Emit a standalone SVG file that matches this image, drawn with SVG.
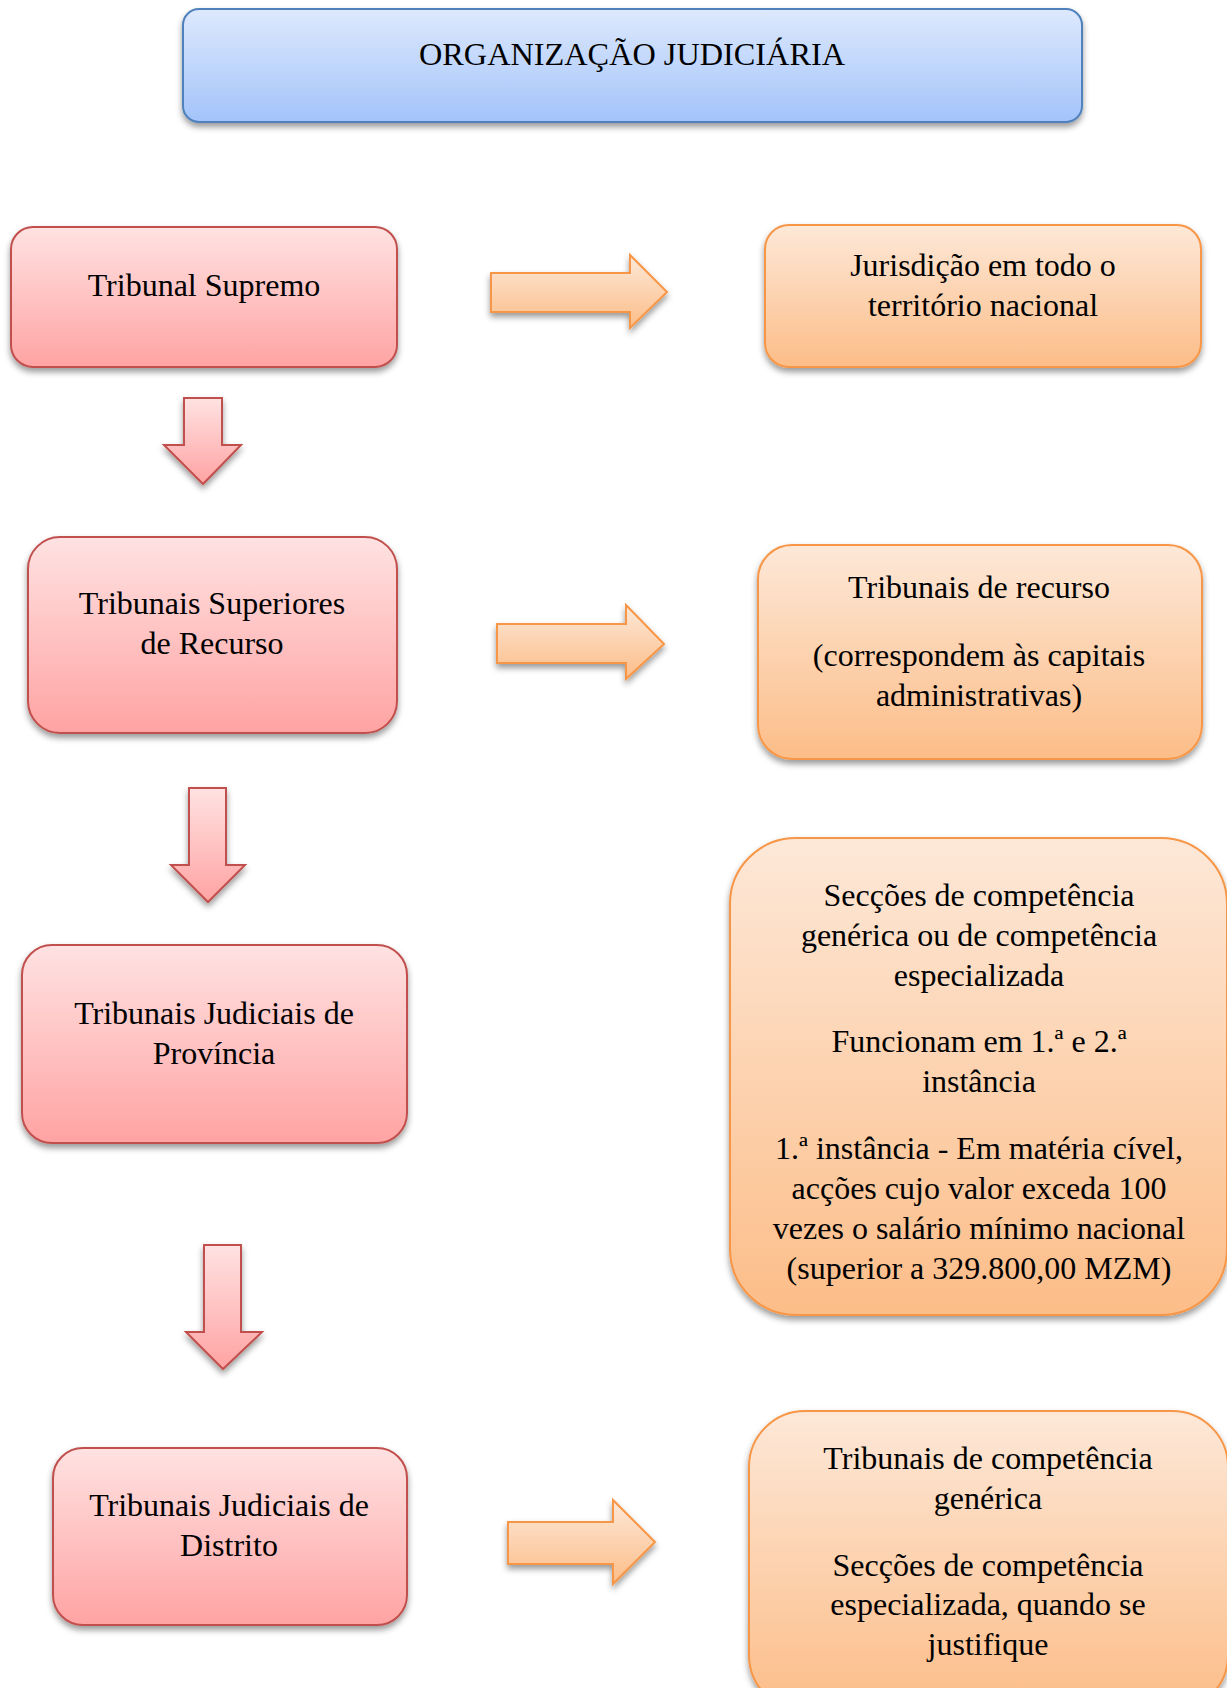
<svg xmlns="http://www.w3.org/2000/svg" width="1227" height="1688" viewBox="0 0 1227 1688">
  <defs>
    <linearGradient id="gBlue" x1="0" y1="0" x2="0" y2="1">
      <stop offset="0" stop-color="#dde9fd"/>
      <stop offset="1" stop-color="#a3c3fa"/>
    </linearGradient>
    <linearGradient id="gPink" x1="0" y1="0" x2="0" y2="1">
      <stop offset="0" stop-color="#ffe2e2"/>
      <stop offset="1" stop-color="#ffa3a3"/>
    </linearGradient>
    <linearGradient id="gOrange" x1="0" y1="0" x2="0" y2="1">
      <stop offset="0" stop-color="#fde8d8"/>
      <stop offset="1" stop-color="#fcbd88"/>
    </linearGradient>
    <filter id="shadow" x="-10%" y="-10%" width="120%" height="130%">
      <feDropShadow dx="0" dy="4" stdDeviation="3" flood-color="#000" flood-opacity="0.4"/>
    </filter>
  </defs>
  <style>
    .blue { fill: url(#gBlue); stroke: #4f81bd; stroke-width: 2; filter: url(#shadow); }
    .pink { fill: url(#gPink); stroke: #c0504d; stroke-width: 2; filter: url(#shadow); }
    .orange { fill: url(#gOrange); stroke: #f79646; stroke-width: 2; filter: url(#shadow); }
    .arrowP { fill: url(#gPink); stroke: #c0504d; stroke-width: 2; stroke-linejoin: miter; filter: url(#shadow); }
    .arrowO { fill: url(#gOrange); stroke: #f79646; stroke-width: 2; stroke-linejoin: miter; filter: url(#shadow); }
    text { font-family: "Liberation Serif", "Times New Roman", serif; font-size: 32px; fill: #000; text-anchor: middle; }
  </style>

  <rect width="1227" height="1688" fill="#ffffff"/>

  <!-- title -->
  <g id="title">
    <rect class="blue" x="183" y="9" width="899" height="113" rx="16"/>
    <text x="632" y="65" textLength="426" lengthAdjust="spacingAndGlyphs">ORGANIZAÇÃO JUDICIÁRIA</text>
  </g>

  <!-- left column: court hierarchy -->
  <g id="tribunal-supremo">
    <rect class="pink" x="11" y="227" width="386" height="140" rx="22"/>
    <text x="204" y="296">Tribunal Supremo</text>
  </g>
  <g id="tribunais-superiores">
    <rect class="pink" x="28" y="537" width="369" height="196" rx="32"/>
    <text x="212" y="614">Tribunais Superiores</text>
    <text x="212" y="654">de Recurso</text>
  </g>
  <g id="tribunais-provincia">
    <rect class="pink" x="22" y="945" width="385" height="198" rx="30"/>
    <text x="214" y="1024">Tribunais Judiciais de</text>
    <text x="214" y="1064">Província</text>
  </g>
  <g id="tribunais-distrito">
    <rect class="pink" x="53" y="1448" width="354" height="177" rx="30"/>
    <text x="229" y="1516">Tribunais Judiciais de</text>
    <text x="229" y="1556">Distrito</text>
  </g>

  <!-- right column: descriptions -->
  <g id="desc-supremo">
    <rect class="orange" x="765" y="225" width="436" height="142" rx="24"/>
    <text x="983" y="276">Jurisdição em todo o</text>
    <text x="983" y="316">território nacional</text>
  </g>
  <g id="desc-superiores">
    <rect class="orange" x="758" y="545" width="444" height="214" rx="34"/>
    <text x="979" y="598">Tribunais de recurso</text>
    <text x="979" y="666">(correspondem às capitais</text>
    <text x="979" y="706">administrativas)</text>
  </g>
  <g id="desc-provincia">
    <rect class="orange" x="730" y="838" width="497" height="477" rx="66"/>
    <text x="979" y="906">Secções de competência</text>
    <text x="979" y="946">genérica ou de competência</text>
    <text x="979" y="986">especializada</text>
    <text x="979" y="1052">Funcionam em 1.ª e 2.ª</text>
    <text x="979" y="1092">instância</text>
    <text x="979" y="1159">1.ª instância - Em matéria cível,</text>
    <text x="979" y="1199">acções cujo valor exceda 100</text>
    <text x="979" y="1239">vezes o salário mínimo nacional</text>
    <text x="979" y="1279">(superior a 329.800,00 MZM)</text>
  </g>
  <g id="desc-distrito">
    <rect class="orange" x="749" y="1411" width="479" height="300" rx="56"/>
    <text x="988" y="1469">Tribunais de competência</text>
    <text x="988" y="1509">genérica</text>
    <text x="988" y="1576">Secções de competência</text>
    <text x="988" y="1615">especializada, quando se</text>
    <text x="988" y="1655">justifique</text>
  </g>

  <!-- connectors: block arrows -->
  <g id="connectors">
    <polygon class="arrowP" points="184,398 222,398 222,445 241,445 203,484 164,445 184,445"/>
    <polygon class="arrowP" points="189,788 226,788 226,865 245,865 208,902 171,865 189,865"/>
    <polygon class="arrowP" points="204,1245 241,1245 241,1332 262,1332 223,1369 186,1332 204,1332"/>
    <polygon class="arrowO" points="491,273 630,273 630,255 667,292 630,328 630,312 491,312"/>
    <polygon class="arrowO" points="497,624 626,624 626,605 664,644 626,679 626,663 497,663"/>
    <polygon class="arrowO" points="508,1522 613,1522 613,1500 655,1542 613,1584 613,1564 508,1564"/>
  </g>
</svg>
